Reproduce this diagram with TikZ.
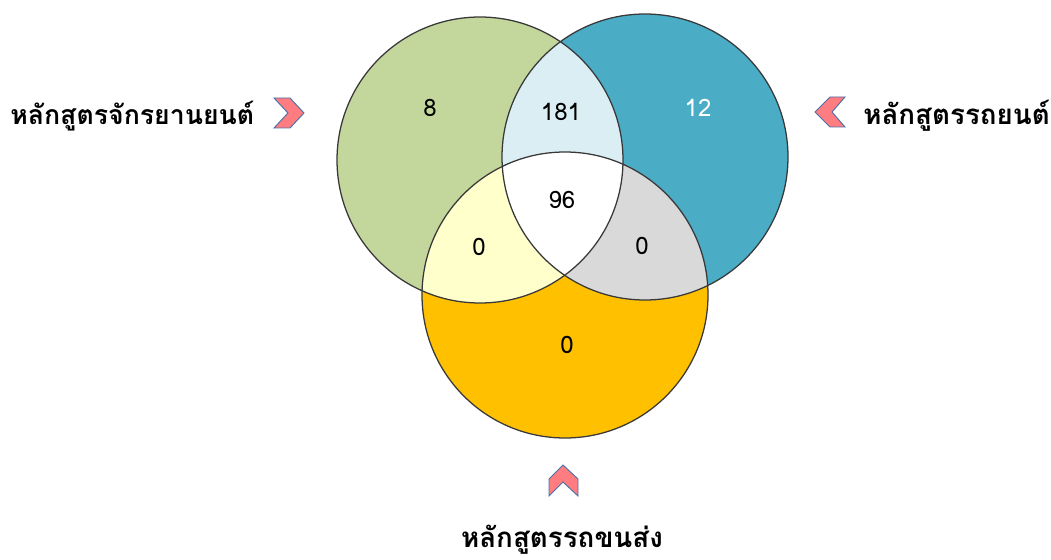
\documentclass[tikz,border=0pt]{standalone}
\usepackage{fontspec}
\setmainfont{DejaVu Sans}
\newfontfamily\thaifont[Script=Thai]{Loma}
\definecolor{cgreen}{HTML}{C3D69B}
\definecolor{cblue}{HTML}{4BACC6}
\definecolor{corange}{HTML}{FFC000}
\definecolor{clblue}{HTML}{DAEEF3}
\definecolor{cyellow}{HTML}{FFFFCC}
\definecolor{cgray}{HTML}{D9D9D9}
\definecolor{cline}{HTML}{383838}
\definecolor{chevfill}{HTML}{FF7C80}
\definecolor{chevline}{HTML}{4A72A8}
\begin{document}
\begin{tikzpicture}[x=0.75pt,y=-0.75pt,
  ring/.style={draw=cline,line width=0.95pt},
  chev/.style={fill=chevfill,draw=chevline,line width=0.7pt,line join=miter},
  num/.style={font=\thaifont\fontsize{18}{21}\selectfont,inner sep=0pt},
  lab/.style={font=\thaifont\bfseries\fontsize{20.8}{24}\selectfont,inner sep=0pt}]
\useasboundingbox (0,0) rectangle (1051,560);
\def\R{107.25pt}
\coordinate (L) at (480,160);
\coordinate (Rc) at (645,157);
\coordinate (B) at (565,295);
% base fills
\fill[cgreen] (L) circle[radius=\R];
\fill[cblue] (Rc) circle[radius=\R];
\fill[corange] (B) circle[radius=\R];
% pairwise
\begin{scope}
  \clip (L) circle[radius=\R];
  \fill[clblue] (Rc) circle[radius=\R];
\end{scope}
\begin{scope}
  \clip (L) circle[radius=\R];
  \fill[cyellow] (B) circle[radius=\R];
\end{scope}
\begin{scope}
  \clip (Rc) circle[radius=\R];
  \fill[cgray] (B) circle[radius=\R];
\end{scope}
\begin{scope}
  \clip (L) circle[radius=\R];
  \clip (Rc) circle[radius=\R];
  \fill[white] (B) circle[radius=\R];
\end{scope}
% outlines
\draw[ring] (L) circle[radius=\R];
\draw[ring] (Rc) circle[radius=\R];
\draw[ring] (B) circle[radius=\R];
% numbers
\node[num] (n8) at (430,108) {8};
\node[num] (n181) at (561,112) {181};
\node[num,text=white] (n12) at (698,108) {12};
\node[num] (n96) at (562,200) {96};
\node[num] (nlb) at (479,247) {0};
\node[num] (nrb) at (642,246) {0};
\node[num] (nb) at (567,345) {0};
% labels
\node[lab,font=\thaifont\bfseries\fontsize{20}{24}\selectfont,anchor=base west] (labL) at (10,125) {หลักสูตรจักรยานยนต์};
\node[lab,anchor=base west] (labR) at (863,125) {หลักสูตรรถยนต์};
\node[lab,anchor=base] (labB) at (562,547) {หลักสูตรรถขนส่ง};
% chevrons
\draw[chev] (274,98) -- (290,98) -- (304,113) -- (290,128) -- (274,128) -- (288,113) -- cycle;
\draw[chev] (815,112) -- (830,97) -- (845,97) -- (832,112) -- (845,127) -- (830,127) -- cycle;
\draw[chev] (563,465) -- (578,479) -- (578,496) -- (563,482) -- (549,496) -- (549,479) -- cycle;
\end{tikzpicture}
\end{document}
